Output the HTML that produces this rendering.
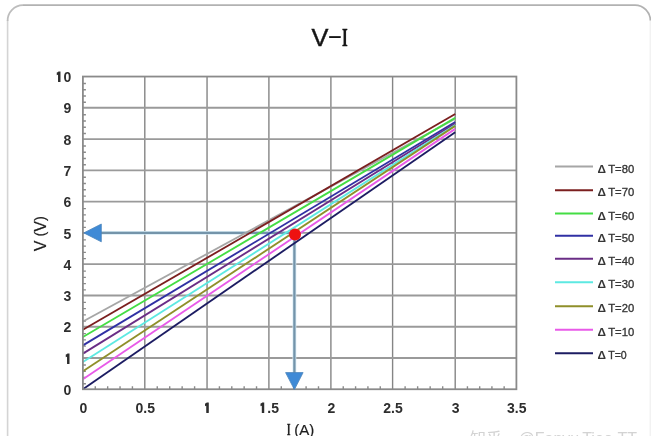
<!DOCTYPE html>
<html><head><meta charset="utf-8"><title>V-I</title>
<style>
html,body{margin:0;padding:0;background:#fff;}
body{width:651px;height:436px;overflow:hidden;}
svg{display:block;}
</style></head><body>
<svg width="651" height="436" viewBox="0 0 651 436"><path d="M7.6 440 V20" fill="none" stroke="#d4d4d4" stroke-width="1.6"/><path d="M650.2 440 V20" fill="none" stroke="#efefef" stroke-width="1.2"/><path d="M7.6 21 A15.5 15.5 0 0 1 23 5.2" fill="none" stroke="#bdbdbd" stroke-width="1.7"/><path d="M23 5.2 H635 A15.5 15.5 0 0 1 650.4 20.5" fill="none" stroke="#b2b2b2" stroke-width="1.8"/><text transform="translate(311.5,45.5) scale(1.04,1)" x="0" y="0" font-family="Liberation Sans, sans-serif" font-size="24.4" fill="#151515" stroke="#151515" stroke-width="0.45">V</text><text transform="translate(327.0,43.2) scale(1.95,1)" x="0" y="0" font-family="Liberation Sans, sans-serif" font-size="24.5" fill="#151515">-</text><text transform="translate(342.0,46.2) scale(0.56,1)" x="0" y="0" font-family="Liberation Serif, serif" font-weight="bold" font-size="26" fill="#151515" stroke="#151515" stroke-width="0.4">I</text><path d="M144.80 76.55V389.25 M207.05 76.55V389.25 M268.90 76.55V389.25 M330.90 76.55V389.25 M392.60 76.55V389.25 M455.20 76.55V389.25" stroke="#858585" stroke-width="1.4" fill="none"/><path d="M82.90 357.98H516.40 M82.90 326.71H516.40 M82.90 295.44H516.40 M82.90 264.17H516.40 M82.90 232.90H516.40 M82.90 201.63H516.40 M82.90 170.36H516.40 M82.90 139.09H516.40 M82.90 107.82H516.40" stroke="#9a9a9a" stroke-width="1.9" fill="none"/><path d="M95.28 389.25v-3 M107.66 389.25v-3 M120.04 389.25v-3 M132.42 389.25v-3 M157.25 389.25v-3 M169.70 389.25v-3 M182.15 389.25v-3 M194.60 389.25v-3 M219.42 389.25v-3 M231.79 389.25v-3 M244.16 389.25v-3 M256.53 389.25v-3 M281.30 389.25v-3 M293.70 389.25v-3 M306.10 389.25v-3 M318.50 389.25v-3 M343.24 389.25v-3 M355.58 389.25v-3 M367.92 389.25v-3 M380.26 389.25v-3 M405.12 389.25v-3 M417.64 389.25v-3 M430.16 389.25v-3 M442.68 389.25v-3 M467.44 389.25v-3 M479.68 389.25v-3 M491.92 389.25v-3 M504.16 389.25v-3 M82.90 383.70h3 M82.90 377.44h3 M82.90 371.19h3 M82.90 364.93h3 M82.90 352.43h3 M82.90 346.17h3 M82.90 339.92h3 M82.90 333.66h3 M82.90 321.16h3 M82.90 314.90h3 M82.90 308.65h3 M82.90 302.39h3 M82.90 289.89h3 M82.90 283.63h3 M82.90 277.38h3 M82.90 271.12h3 M82.90 258.62h3 M82.90 252.36h3 M82.90 246.11h3 M82.90 239.85h3 M82.90 227.35h3 M82.90 221.09h3 M82.90 214.84h3 M82.90 208.58h3 M82.90 196.08h3 M82.90 189.82h3 M82.90 183.57h3 M82.90 177.31h3 M82.90 164.81h3 M82.90 158.55h3 M82.90 152.30h3 M82.90 146.04h3 M82.90 133.54h3 M82.90 127.28h3 M82.90 121.03h3 M82.90 114.77h3 M82.90 102.27h3 M82.90 96.01h3 M82.90 89.76h3 M82.90 83.50h3" stroke="#8a8a8a" stroke-width="1.4" fill="none"/><path d="M294.4 232.90H100 M294.4 232.90V373" stroke="#d8ecf5" stroke-width="3.8" fill="none"/><path d="M294.4 232.90H100 M294.4 232.90V373" stroke="#7494aa" stroke-width="2.3" fill="none"/><line x1="82.90" y1="321.52" x2="455.20" y2="118.76" stroke="#a6a6a6" stroke-width="1.85"/><line x1="82.90" y1="329.74" x2="455.20" y2="114.07" stroke="#7b1f1f" stroke-width="1.85"/><line x1="82.90" y1="337.06" x2="455.20" y2="117.86" stroke="#44dd44" stroke-width="1.85"/><line x1="82.90" y1="345.35" x2="455.20" y2="122.02" stroke="#3030a4" stroke-width="1.85"/><line x1="82.90" y1="353.66" x2="455.20" y2="123.52" stroke="#6a2d86" stroke-width="1.85"/><line x1="82.90" y1="362.05" x2="455.20" y2="125.14" stroke="#5de9e2" stroke-width="1.85"/><line x1="82.90" y1="371.33" x2="455.20" y2="125.86" stroke="#8f8f2a" stroke-width="1.85"/><line x1="82.90" y1="379.34" x2="455.20" y2="128.86" stroke="#e85ae8" stroke-width="1.85"/><line x1="82.90" y1="389.25" x2="455.20" y2="132.21" stroke="#1c1c62" stroke-width="1.85"/><rect x="82.90" y="76.55" width="433.50" height="312.70" fill="none" stroke="#8a8a8a" stroke-width="1.8"/><path d="M83.8 232.90 L101.3 224 L101.3 241.8 Z" fill="#3f8ad6" stroke="#4a84bb" stroke-width="0.8"/><path d="M294.4 389.6 L285.6 372.6 L303.1 372.6 Z" fill="#3f8ad6" stroke="#4a84bb" stroke-width="0.8"/><circle cx="295.0" cy="234.4" r="6" fill="#ee1111"/><text transform="translate(71.3,394.85) scale(1,1.06)" font-family="Liberation Sans, Arial, sans-serif" font-weight="bold" fill="#2e2e2e" font-size="14" text-anchor="end">0</text><text transform="translate(71.3,363.58) scale(1,1.06)" font-family="Liberation Sans, Arial, sans-serif" font-weight="bold" fill="#2e2e2e" font-size="14" text-anchor="end"><tspan font-family="IPAGothic, Liberation Sans, sans-serif" font-size="12.4" stroke="#2e2e2e" stroke-width="0.9">1</tspan></text><text transform="translate(71.3,332.31) scale(1,1.06)" font-family="Liberation Sans, Arial, sans-serif" font-weight="bold" fill="#2e2e2e" font-size="14" text-anchor="end">2</text><text transform="translate(71.3,301.04) scale(1,1.06)" font-family="Liberation Sans, Arial, sans-serif" font-weight="bold" fill="#2e2e2e" font-size="14" text-anchor="end">3</text><text transform="translate(71.3,269.77) scale(1,1.06)" font-family="Liberation Sans, Arial, sans-serif" font-weight="bold" fill="#2e2e2e" font-size="14" text-anchor="end">4</text><text transform="translate(71.3,238.50) scale(1,1.06)" font-family="Liberation Sans, Arial, sans-serif" font-weight="bold" fill="#2e2e2e" font-size="14" text-anchor="end">5</text><text transform="translate(71.3,207.23) scale(1,1.06)" font-family="Liberation Sans, Arial, sans-serif" font-weight="bold" fill="#2e2e2e" font-size="14" text-anchor="end">6</text><text transform="translate(71.3,175.96) scale(1,1.06)" font-family="Liberation Sans, Arial, sans-serif" font-weight="bold" fill="#2e2e2e" font-size="14" text-anchor="end">7</text><text transform="translate(71.3,144.69) scale(1,1.06)" font-family="Liberation Sans, Arial, sans-serif" font-weight="bold" fill="#2e2e2e" font-size="14" text-anchor="end">8</text><text transform="translate(71.3,113.42) scale(1,1.06)" font-family="Liberation Sans, Arial, sans-serif" font-weight="bold" fill="#2e2e2e" font-size="14" text-anchor="end">9</text><text transform="translate(71.3,82.15) scale(1,1.06)" font-family="Liberation Sans, Arial, sans-serif" font-weight="bold" fill="#2e2e2e" font-size="14" text-anchor="end"><tspan font-family="IPAGothic, Liberation Sans, sans-serif" font-size="12.4" stroke="#2e2e2e" stroke-width="0.9">1</tspan><tspan dx="1.4">0</tspan></text><text transform="translate(83.30,412.7) scale(1,1.06)" font-family="Liberation Sans, Arial, sans-serif" font-weight="bold" fill="#2e2e2e" font-size="14" text-anchor="middle">0</text><text transform="translate(145.20,412.7) scale(1,1.06)" font-family="Liberation Sans, Arial, sans-serif" font-weight="bold" fill="#2e2e2e" font-size="14" text-anchor="middle">0.5</text><text transform="translate(207.45,412.7) scale(1,1.06)" font-family="Liberation Sans, Arial, sans-serif" font-weight="bold" fill="#2e2e2e" font-size="14" text-anchor="middle"><tspan font-family="IPAGothic, Liberation Sans, sans-serif" font-size="12.4" stroke="#2e2e2e" stroke-width="0.9">1</tspan></text><text transform="translate(269.30,412.7) scale(1,1.06)" font-family="Liberation Sans, Arial, sans-serif" font-weight="bold" fill="#2e2e2e" font-size="14" text-anchor="middle"><tspan font-family="IPAGothic, Liberation Sans, sans-serif" font-size="12.4" stroke="#2e2e2e" stroke-width="0.9">1</tspan><tspan dx="1.4">.5</tspan></text><text transform="translate(331.30,412.7) scale(1,1.06)" font-family="Liberation Sans, Arial, sans-serif" font-weight="bold" fill="#2e2e2e" font-size="14" text-anchor="middle">2</text><text transform="translate(393.00,412.7) scale(1,1.06)" font-family="Liberation Sans, Arial, sans-serif" font-weight="bold" fill="#2e2e2e" font-size="14" text-anchor="middle">2.5</text><text transform="translate(455.60,412.7) scale(1,1.06)" font-family="Liberation Sans, Arial, sans-serif" font-weight="bold" fill="#2e2e2e" font-size="14" text-anchor="middle">3</text><text transform="translate(516.80,412.7) scale(1,1.06)" font-family="Liberation Sans, Arial, sans-serif" font-weight="bold" fill="#2e2e2e" font-size="14" text-anchor="middle">3.5</text><text transform="translate(287.0,434.5) scale(0.56,1)" x="0" y="0" font-family="Liberation Serif, serif" font-weight="bold" font-size="15.7" fill="#1e1e1e" stroke="#1e1e1e" stroke-width="0.45">I</text><text x="294.3" y="434.6" font-family="Liberation Sans, sans-serif" font-size="15" fill="#1e1e1e" stroke="#1e1e1e" stroke-width="0.2">(A)</text><text transform="translate(46.3,233.7) rotate(-90)" x="0" y="0" font-family="Liberation Sans, sans-serif" font-size="15" fill="#1e1e1e" stroke="#1e1e1e" stroke-width="0.2" text-anchor="middle"><tspan font-size="16">V</tspan><tspan font-size="14.5" dy="-1.2"> (</tspan><tspan font-size="16" dy="1.2">V</tspan><tspan font-size="14.5" dy="-1.2">)</tspan></text><line x1="555" y1="166.6" x2="593" y2="166.6" stroke="#a6a6a6" stroke-width="2"/><text x="597.6" y="172.5" font-family="Liberation Sans, Arial, sans-serif" fill="#363636" font-size="11.8" font-weight="bold">&#916;</text><text x="608.2" y="172.5" font-family="Liberation Sans, Arial, sans-serif" fill="#363636" font-size="11.8" stroke="#363636" stroke-width="0.35" textLength="26.0" lengthAdjust="spacingAndGlyphs">T=80</text><line x1="555" y1="190.2" x2="593" y2="190.2" stroke="#7b1f1f" stroke-width="2"/><text x="597.6" y="196.1" font-family="Liberation Sans, Arial, sans-serif" fill="#363636" font-size="11.8" font-weight="bold">&#916;</text><text x="608.2" y="196.1" font-family="Liberation Sans, Arial, sans-serif" fill="#363636" font-size="11.8" stroke="#363636" stroke-width="0.35" textLength="26.0" lengthAdjust="spacingAndGlyphs">T=70</text><line x1="555" y1="213.6" x2="593" y2="213.6" stroke="#44dd44" stroke-width="2"/><text x="597.6" y="219.5" font-family="Liberation Sans, Arial, sans-serif" fill="#363636" font-size="11.8" font-weight="bold">&#916;</text><text x="608.2" y="219.5" font-family="Liberation Sans, Arial, sans-serif" fill="#363636" font-size="11.8" stroke="#363636" stroke-width="0.35" textLength="26.0" lengthAdjust="spacingAndGlyphs">T=60</text><line x1="555" y1="235.8" x2="593" y2="235.8" stroke="#3030a4" stroke-width="2"/><text x="597.6" y="241.7" font-family="Liberation Sans, Arial, sans-serif" fill="#363636" font-size="11.8" font-weight="bold">&#916;</text><text x="608.2" y="241.7" font-family="Liberation Sans, Arial, sans-serif" fill="#363636" font-size="11.8" stroke="#363636" stroke-width="0.35" textLength="26.0" lengthAdjust="spacingAndGlyphs">T=50</text><line x1="555" y1="258.8" x2="593" y2="258.8" stroke="#6a2d86" stroke-width="2"/><text x="597.6" y="264.7" font-family="Liberation Sans, Arial, sans-serif" fill="#363636" font-size="11.8" font-weight="bold">&#916;</text><text x="608.2" y="264.7" font-family="Liberation Sans, Arial, sans-serif" fill="#363636" font-size="11.8" stroke="#363636" stroke-width="0.35" textLength="26.0" lengthAdjust="spacingAndGlyphs">T=40</text><line x1="555" y1="282.2" x2="593" y2="282.2" stroke="#5de9e2" stroke-width="2"/><text x="597.6" y="288.1" font-family="Liberation Sans, Arial, sans-serif" fill="#363636" font-size="11.8" font-weight="bold">&#916;</text><text x="608.2" y="288.1" font-family="Liberation Sans, Arial, sans-serif" fill="#363636" font-size="11.8" stroke="#363636" stroke-width="0.35" textLength="26.0" lengthAdjust="spacingAndGlyphs">T=30</text><line x1="555" y1="306.2" x2="593" y2="306.2" stroke="#8f8f2a" stroke-width="2"/><text x="597.6" y="312.1" font-family="Liberation Sans, Arial, sans-serif" fill="#363636" font-size="11.8" font-weight="bold">&#916;</text><text x="608.2" y="312.1" font-family="Liberation Sans, Arial, sans-serif" fill="#363636" font-size="11.8" stroke="#363636" stroke-width="0.35" textLength="26.0" lengthAdjust="spacingAndGlyphs">T=20</text><line x1="555" y1="329.8" x2="593" y2="329.8" stroke="#e85ae8" stroke-width="2"/><text x="597.6" y="335.7" font-family="Liberation Sans, Arial, sans-serif" fill="#363636" font-size="11.8" font-weight="bold">&#916;</text><text x="608.2" y="335.7" font-family="Liberation Sans, Arial, sans-serif" fill="#363636" font-size="11.8" stroke="#363636" stroke-width="0.35" textLength="26.0" lengthAdjust="spacingAndGlyphs">T=10</text><line x1="555" y1="353.3" x2="593" y2="353.3" stroke="#1c1c62" stroke-width="2"/><text x="597.6" y="359.2" font-family="Liberation Sans, Arial, sans-serif" fill="#363636" font-size="11.8" font-weight="bold">&#916;</text><text x="608.2" y="359.2" font-family="Liberation Sans, Arial, sans-serif" fill="#363636" font-size="11.8" stroke="#363636" stroke-width="0.35" textLength="18.5" lengthAdjust="spacingAndGlyphs">T=0</text><text y="443.6" font-family="Liberation Sans, Noto Sans CJK SC, sans-serif" font-size="16" fill="#d3d3d3"><tspan x="470">知乎</tspan><tspan x="518.5">@Fanvu</tspan><tspan x="582.2">Tieo</tspan><tspan x="617.5">TT</tspan></text></svg>
</body></html>
